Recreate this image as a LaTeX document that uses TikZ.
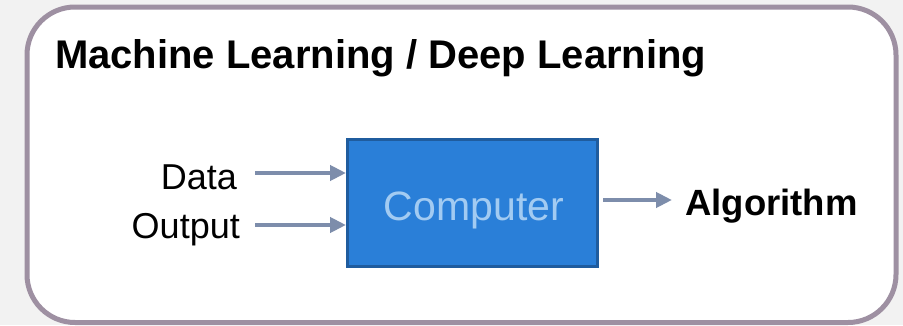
\documentclass[tikz,border=0pt]{standalone}
\usepackage{fontspec}
\setmainfont{Liberation Sans}
\usetikzlibrary{arrows.meta}
\definecolor{bgc}{HTML}{F2F2F2}
\definecolor{framec}{HTML}{9E90A2}
\definecolor{boxfill}{HTML}{2A7FD8}
\definecolor{boxline}{HTML}{1F5C9E}
\definecolor{boxtext}{HTML}{A2CBF2}
\definecolor{arrc}{HTML}{7D8DAB}
\tikzset{
  lbl/.style={inner sep=0pt, font=\fontsize{36}{42}\selectfont},
  arr/.style={draw=arrc, line width=4pt, -{Triangle[length=16pt,width=15pt]}},
  compbox/.style={draw=boxline, line width=3pt, fill=boxfill, minimum width=250pt, minimum height=127pt, inner sep=0pt},
}
\begin{document}
\begin{tikzpicture}[x=1pt,y=1pt]
\fill[bgc] (0,0) rectangle (903,325);
\useasboundingbox (0,0) rectangle (903,325);
\draw[framec, line width=5pt, fill=white, rounded corners=48pt] (27,2.5) rectangle (896,318);
\node[lbl, anchor=base west, font=\fontsize{40}{48}\selectfont\bfseries] (title) at (55,257) {Machine Learning / Deep Learning};
\node[compbox] (comp) at (472.5,122) {};
\node[inner sep=0pt, anchor=base, text=boxtext, font=\fontsize{41}{48}\selectfont] (ctext) at (474,105) {Computer};
\node[lbl, anchor=base east] (data) at (237,136) {Data};
\node[lbl, anchor=base east] (output) at (240,87) {Output};
\node[lbl, anchor=base west, font=\fontsize{36.5}{42}\selectfont\bfseries] (alg) at (685,110) {Algorithm};
\coordinate (d0) at (255,152);
\coordinate (o0) at (255,100);
\coordinate (a0) at (603,125);
\coordinate (a1) at (672,125);
\draw[arr] (d0) -- (d0 -| comp.west);
\draw[arr] (o0) -- (o0 -| comp.west);
\draw[arr] (a0) -- (a1);
\end{tikzpicture}
\end{document}
